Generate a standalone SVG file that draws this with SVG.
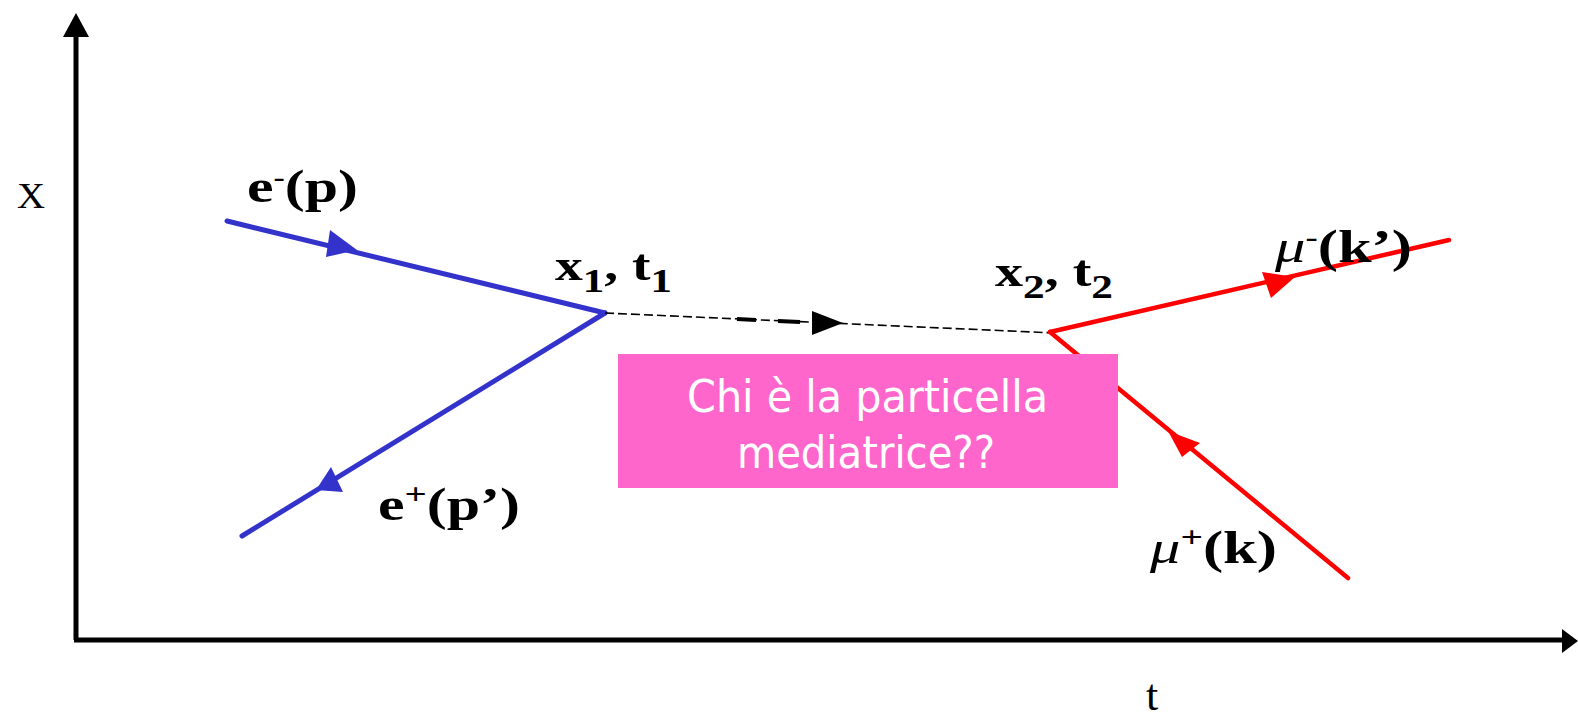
<svg xmlns="http://www.w3.org/2000/svg" width="1578" height="721" viewBox="0 0 1578 721">
<style>
.lbl{font-family:"Liberation Serif","Times New Roman",serif;font-weight:bold;fill:#000}
.ax{font-family:"Liberation Serif","Times New Roman",serif;fill:#000}
.blue{stroke:#3333cc;stroke-width:5;fill:none;stroke-linecap:round}
.red{stroke:#ff0000;stroke-width:4.5;fill:none;stroke-linecap:round}
.box-text{font-family:"DejaVu Sans Condensed","DejaVu Sans",sans-serif;fill:#ffffff;font-size:44px}
</style>
<rect width="1578" height="721" fill="#ffffff"/>
<g id="axes">
  <line x1="76" y1="640" x2="76" y2="32" stroke="#000" stroke-width="5"/>
  <polygon points="76,13 63,37 89,37" fill="#000"/>
  <line x1="74" y1="640" x2="1565" y2="640" stroke="#000" stroke-width="5"/>
  <polygon points="1578,641 1562,629 1562,653" fill="#000"/>
  <text class="ax" x="17" y="208" font-size="36" textLength="28" lengthAdjust="spacingAndGlyphs">X</text>
  <text class="ax" x="1146" y="710" font-size="44">t</text>
</g>
<g id="connectors">
  <g id="e-minus-line">
    <line class="blue" x1="227" y1="221" x2="605" y2="313"/>
    <polygon points="357,250 330,230 326,257" fill="#3333cc"/>
  </g>
  <g id="e-plus-line">
    <line class="blue" x1="605" y1="313" x2="242" y2="536"/>
    <polygon points="316,490 331,467 343,492" fill="#3333cc"/>
  </g>
  <g id="propagator">
    <path d="M605,313 L1055,333" stroke="#000" stroke-width="1.6" stroke-dasharray="9,4" fill="none"/>
    <line x1="737" y1="319" x2="756" y2="320" stroke="#000" stroke-width="4"/>
    <line x1="778" y1="321" x2="800" y2="322" stroke="#000" stroke-width="4"/>
    <polygon points="843,323 812,311 812,335" fill="#000"/>
  </g>
  <g id="mu-minus-line">
    <line class="red" x1="1050" y1="332" x2="1449" y2="240"/>
    <polygon points="1295,277 1262,272 1271,298" fill="#ff0000"/>
  </g>
  <g id="mu-plus-line">
    <line class="red" x1="1050" y1="332" x2="1348" y2="578"/>
    <polygon points="1168,431 1200,443 1182,457" fill="#ff0000"/>
  </g>
</g>
<g id="label-eminus"><text class="lbl" x="247" y="202" font-size="46" textLength="111" lengthAdjust="spacingAndGlyphs">e<tspan font-size="26" dy="-16">-</tspan><tspan dy="16">(p)</tspan></text></g>
<g id="label-eplus"><text class="lbl" x="378" y="520" font-size="46" textLength="142" lengthAdjust="spacingAndGlyphs">e<tspan font-size="30" dy="-16">+</tspan><tspan dy="16">(p’)</tspan></text></g>
<g id="label-x1t1"><text class="lbl" x="555" y="280" font-size="44" textLength="117" lengthAdjust="spacingAndGlyphs">x<tspan font-size="34" dy="12">1</tspan><tspan dy="-12">, t</tspan><tspan font-size="34" dy="12">1</tspan></text></g>
<g id="label-x2t2"><text class="lbl" x="995" y="286" font-size="44" textLength="118" lengthAdjust="spacingAndGlyphs">x<tspan font-size="34" dy="12">2</tspan><tspan dy="-12">, t</tspan><tspan font-size="34" dy="12">2</tspan></text></g>
<g id="label-muminus"><text class="lbl" x="1275" y="262" font-size="46" textLength="137" lengthAdjust="spacingAndGlyphs"><tspan font-style="italic" font-weight="normal">μ</tspan><tspan font-size="28" dy="-16">-</tspan><tspan dy="16">(k’)</tspan></text></g>
<g id="label-muplus"><text class="lbl" x="1150" y="563" font-size="46" textLength="127" lengthAdjust="spacingAndGlyphs"><tspan font-style="italic" font-weight="normal">μ</tspan><tspan font-size="30" dy="-16">+</tspan><tspan dy="16">(k)</tspan></text></g>
<g id="question-box">
  <rect x="618" y="354" width="500" height="134" fill="#ff66cc"/>
  <text class="box-text" x="687" y="412" textLength="361" lengthAdjust="spacingAndGlyphs">Chi è la particella</text>
  <text class="box-text" x="737" y="468" textLength="258" lengthAdjust="spacingAndGlyphs">mediatrice??</text>
</g>
</svg>
